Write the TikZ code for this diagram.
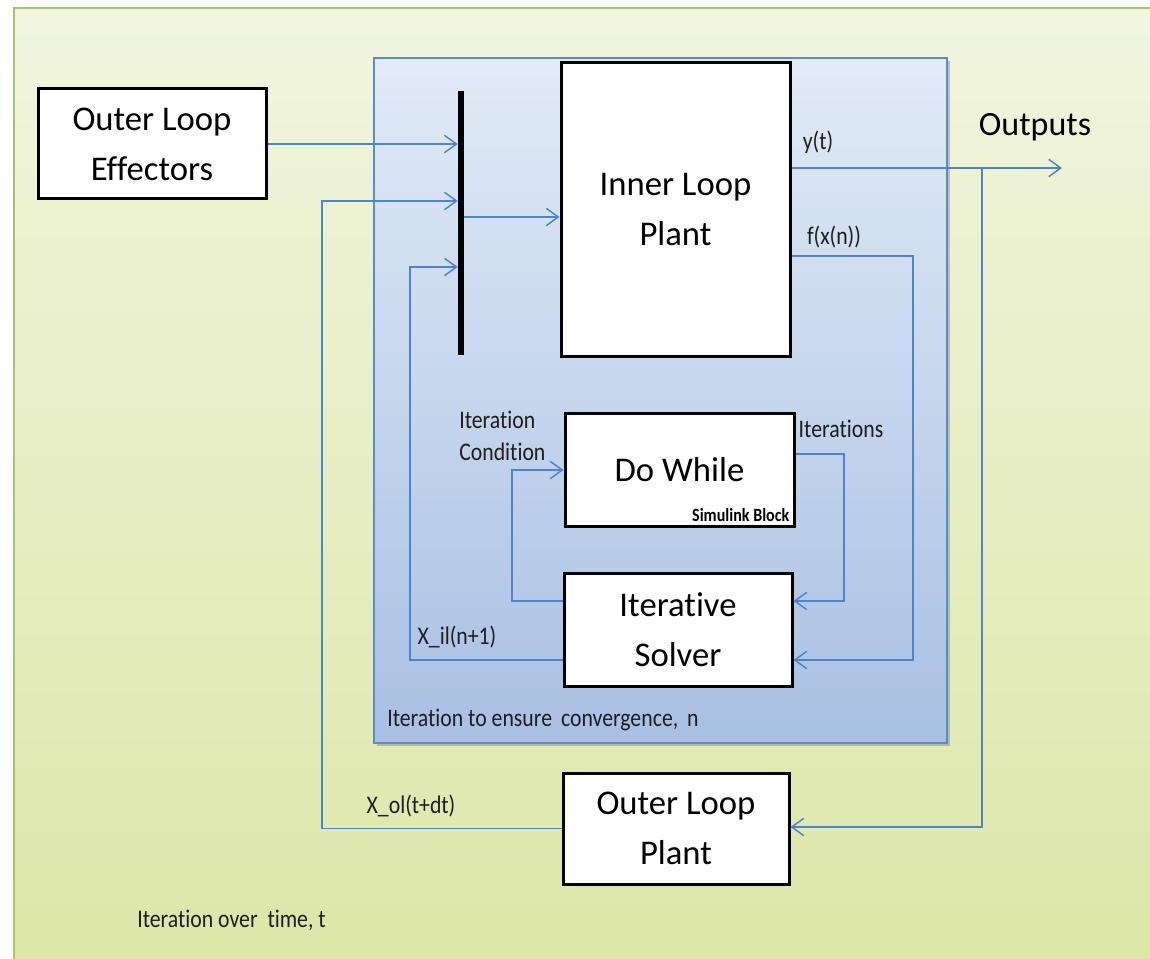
\documentclass[tikz,border=0pt]{standalone}
\usepackage{fontspec}
\setmainfont{Carlito}[Ligatures=NoCommon]
\newfontfamily\narrowfont{Carlito}[FakeStretch=0.86, Ligatures=NoCommon]
\usetikzlibrary{arrows.meta,shadows,calc}
\definecolor{grnTop}{HTML}{F1F5DF}
\definecolor{grnBot}{HTML}{DCE6A6}
\definecolor{grnEdge}{HTML}{A6C46A}
\definecolor{bluTop}{HTML}{E2EBF6}
\definecolor{bluBot}{HTML}{A8C0E3}
\definecolor{bluEdge}{HTML}{5A8BCB}
\definecolor{conn}{HTML}{4F84C9}
\definecolor{lbl}{HTML}{1E1E1E}
\tikzset{
  blockbox/.style={draw=black, line width=2.25pt, fill=white, align=center, inner sep=0pt,
    font=\fontsize{26}{37.5}\selectfont},
  wire/.style={draw=conn, line width=1.1pt},
  arr/.style={wire, -{Straight Barb[length=9pt, width=13pt, line width=1.1pt]}},
  smalllbl/.style={inner sep=0pt, text=lbl, font=\narrowfont\fontsize{19}{24}\selectfont},
}
\begin{document}
\begin{tikzpicture}[x=0.75pt, y=-0.75pt]
\useasboundingbox (0,0) rectangle (1150,959);
\fill[white] (0,0) rectangle (14,959);
\fill[white] (0,0) rectangle (1150,8);
% outer green frame
\begin{scope}
\clip (14,8) rectangle (1150,959);
\shade[top color=grnTop, bottom color=grnBot] (10,4) rectangle (1200,1000);
\end{scope}
\draw[grnEdge, line width=1.5pt] (14,965) -- (14,8) -- (1160,8);
% inner blue frame
\shade[top color=bluTop, bottom color=bluBot, draw=bluEdge, line width=1.1pt,
  drop shadow={shadow xshift=2pt, shadow yshift=-2.5pt, opacity=0.35, fill=black!60}]
  (374,58) rectangle (947,743);

% blocks
\node[blockbox, minimum width=171pt, minimum height=82.5pt] (eff) at (152,144) {Outer Loop\\Effectors};
\node[blockbox, minimum width=171.75pt, minimum height=220.5pt] (inner) at (675.5,210) {Inner Loop\\Plant};
\node[blockbox, minimum width=171.75pt, minimum height=84.75pt] (dowhile) at (679.5,469.5) {Do While};
\node[font=\narrowfont\bfseries\fontsize{14}{16}\selectfont, inner sep=0pt, anchor=south east] (sim) at ($(dowhile.south east)+(-6,-6)$) {Simulink Block};
\node[blockbox, minimum width=171pt, minimum height=84.75pt] (solver) at (678,629.5) {Iterative\\Solver};
\node[blockbox, minimum width=169.5pt, minimum height=83.25pt] (olp) at (676,828.5) {Outer Loop\\Plant};

% mux bar
\node[fill=black, inner sep=0pt, minimum width=4.5pt, minimum height=198pt] (bar) at (461,223) {};

% free coordinates
\coordinate (out) at (1062,168);
\coordinate (split) at (982,168);
\coordinate (olx) at (322,201);
\coordinate (ilx) at (410,267);

% connectors
\draw[arr] (eff.east) -- (eff.east -| bar.west);
\draw[arr] (olp.west) -| (olx) -- (olx -| bar.west);
\draw[arr] (solver.west |- 0,660) -| (ilx) -- (ilx -| bar.west);
\draw[arr] (bar.east |- 0,217) -- (inner.west |- 0,217);
\draw[arr] (inner.east |- out) -- (out);
\draw[arr] (split) |- (olp.east |- 0,827);
\draw[arr] (inner.east |- 0,256) -| (913,660) -- (solver.east |- 0,660);
\draw[arr] (dowhile.east |- 0,454) -| (844,601) -- (solver.east |- 0,601);
\draw[arr] (solver.west |- 0,601) -| (512,470) -- (dowhile.west |- 0,470);

% labels
\node[inner sep=0pt, font=\fontsize{25.5}{30}\selectfont] (outputs) at (1035,127) {Outputs};
\node[smalllbl] (yt) at (818,142) {y(t)};
\node[smalllbl] (fxn) at (834,237) {f(x(n))};
\node[smalllbl, align=left, anchor=west] (itc) at (459,436) {Iteration\\Condition};
\node[smalllbl] (its) at (841,429) {Iterations};
\node[smalllbl] (xil) at (457,637) {X\_il(n+1)};
\node[smalllbl, anchor=west] (conv) at (387,720) {Iteration to ensure\hspace{3pt} convergence,\hspace{3pt} n};
\node[smalllbl] (xol) at (411,806) {X\_ol(t+dt)};
\node[smalllbl, anchor=west] (time) at (137,920) {Iteration over\ \ time, t};
\end{tikzpicture}
\end{document}
